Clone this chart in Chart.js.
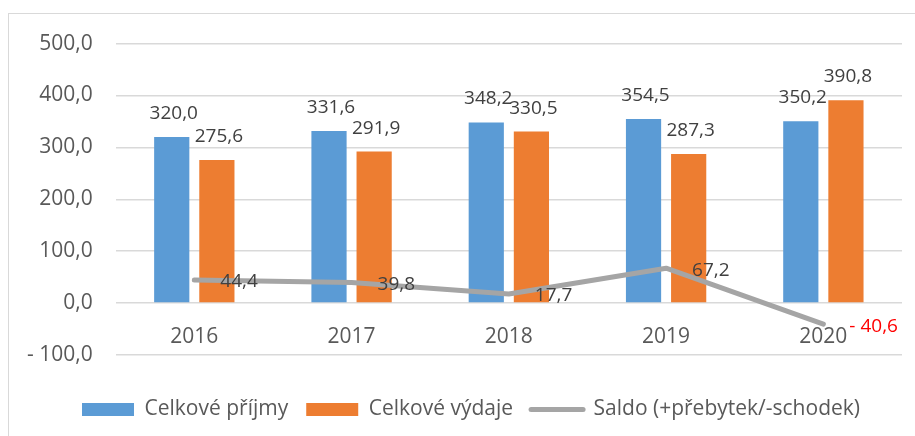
<!DOCTYPE html>
<html><head><meta charset="utf-8">
<script src="https://cdn.jsdelivr.net/npm/chart.js@4/dist/chart.umd.min.js"></script>
<style>
html,body{margin:0;padding:0;background:#fff;overflow:hidden;width:915px;height:436px;}
#frame{position:absolute;left:8px;top:13px;width:926px;height:440px;border:1px solid #d9d9d9;background:#fff;overflow:hidden;}
#c{display:block;position:relative;top:-6px;}
</style></head>
<body>
<div id="frame"><canvas id="c" width="926" height="432"></canvas></div>
<script>
const categories = ['2016','2017','2018','2019','2020'];
const prijmy = [320.0, 331.6, 348.2, 354.5, 350.2];
const vydaje = [275.6, 291.9, 330.5, 287.3, 390.8];
const saldo = [44.4, 39.8, 17.7, 67.2, -40.6];
const seriesNames = ['Celkové příjmy','Celkové výdaje','Saldo (+přebytek/-schodek)'];
const yTicks = [-100, 0, 100, 200, 300, 400, 500];

function fmt(v){ const s = Math.abs(v).toFixed(1).replace('.', ','); return v < 0 ? '- ' + s : s; }

const FONT = "'Open Sans', sans-serif";

const valuePlugin = {
  id: 'vals',
  afterDatasetsDraw(chart){
    const ctx = chart.ctx;
    ctx.save();
    ctx.font = "19px " + FONT;
    chart.data.datasets.forEach((ds, i) => {
      const meta = chart.getDatasetMeta(i);
      meta.data.forEach((el, j) => {
        const v = ds.data[j];
        const t = fmt(v);
        if (ds.type === 'line') {
          ctx.fillStyle = v < 0 ? '#FF0000' : '#404040';
          ctx.textAlign = 'left';
          ctx.textBaseline = 'middle';
          ctx.fillText(t, el.x + 26, el.y + 2);
        } else {
          ctx.fillStyle = '#404040';
          ctx.textAlign = 'center';
          ctx.textBaseline = 'alphabetic';
          ctx.fillText(t, el.x + 2, el.y - 18);
        }
      });
    });
    ctx.restore();
  }
};

const legendShift = {
  id: 'legendShift',
  afterLayout(chart){
    if (chart.legend) { chart.legend.left += 18; chart.legend.right += 18; }
  }
};

new Chart(document.getElementById('c'), {
  type: 'bar',
  data: {
    labels: categories,
    datasets: [
      {label: seriesNames[0], data: prijmy, backgroundColor: '#5B9BD5', order: 1,
       categoryPercentage: 0.574, barPercentage: 0.78},
      {label: seriesNames[1], data: vydaje, backgroundColor: '#ED7D31', order: 1,
       categoryPercentage: 0.574, barPercentage: 0.78},
      {label: seriesNames[2], data: saldo, type: 'line', borderColor: '#A5A5A5', backgroundColor: '#A5A5A5',
       borderWidth: 5, pointRadius: 0, tension: 0, borderCapStyle: 'round', borderJoinStyle: 'round', order: 0}
    ]
  },
  options: {
    responsive: false,
    animation: false,
    devicePixelRatio: 1,
    layout: {padding: {left: -5, right: 33, top: 21, bottom: 10}},
    scales: {
      x: {
        position: {y: 0},
        grid: {display: false, drawTicks: false},
        border: {display: false},
        ticks: {color: '#595959', font: {family: FONT, size: 21}, padding: 21}
      },
      spacer: {
        type: 'category',
        labels: [''],
        position: 'bottom',
        grid: {display: false, drawTicks: false},
        border: {display: false},
        ticks: {display: false},
        afterFit(s){ s.height = 26; }
      },
      y: {
        min: -100, max: 500,
        afterBuildTicks(scale){ scale.ticks = yTicks.map(v => ({value: v})); },
        grid: {color: '#d9d9d9', lineWidth: 1.5, drawTicks: false},
        border: {display: false},
        ticks: {color: '#595959', font: {family: FONT, size: 21}, padding: 23,
                callback: v => fmt(v)}
      }
    },
    plugins: {
      tooltip: {enabled: false},
      legend: {
        position: 'bottom',
        labels: {
          color: '#595959',
          font: {family: FONT, size: 21},
          usePointStyle: true,
          pointStyleWidth: 52,
          boxHeight: 13,
          padding: 18,
          generateLabels(chart){
            const items = Chart.defaults.plugins.legend.labels.generateLabels(chart);
            items.sort((a, b) => a.datasetIndex - b.datasetIndex);
            return items.map(it => {
              if (it.datasetIndex === 2) {
                it.pointStyle = 'line'; it.lineWidth = 5; it.strokeStyle = '#A5A5A5';
                it.fillStyle = '#A5A5A5'; it.lineCap = 'round';
              } else {
                it.pointStyle = 'rect'; it.lineWidth = 0;
              }
              return it;
            });
          }
        }
      }
    }
  },
  plugins: [valuePlugin, legendShift]
});
</script>
</body></html>
